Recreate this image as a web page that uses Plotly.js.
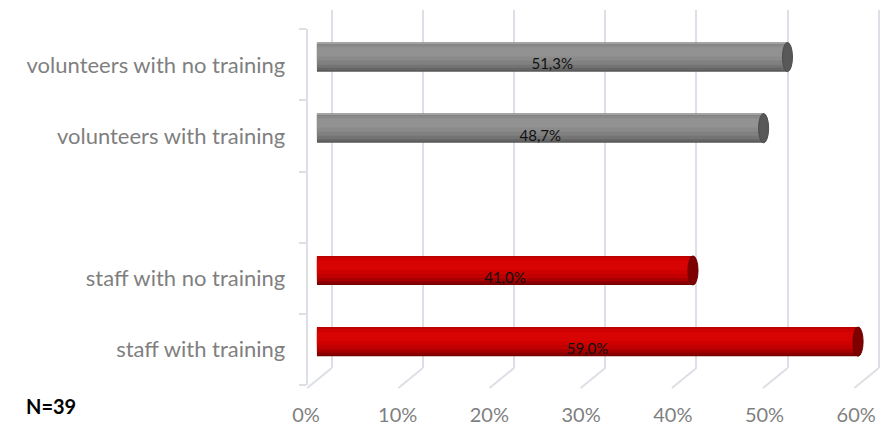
<!DOCTYPE html>
<html>
<head>
<meta charset="utf-8">
<script src="https://cdn.plot.ly/plotly-3.0.1.min.js"></script>
<style>html,body{margin:0;padding:0;background:#fff;}#chart{width:881px;height:428px;}</style>
</head>
<body>
<div id="chart"></div>
<script>
// ---- data ----
const categories = ['staff with training', 'staff with no training', ' ', 'volunteers with training', 'volunteers with no training'];
const values = [59.0, 41.0, null, 48.7, 51.3];
const xTickValues = [0, 10, 20, 30, 40, 50, 60];
const xTickLabels = ['0%', '10%', '20%', '30%', '40%', '50%', '60%'];
const sampleNote = 'N=39';

// ---- style ----
const FONT = 'Lato, "Open Sans", sans-serif';
const GRID = '#dcdfe6';
const LABEL_GREY = '#7f7f7f';
const BAR_W = 0.41, BAR_SHIFT = 0.11;
// cylinder shading: bands (fraction from bottom a..b) drawn bottom-up
const layers = [
  {a: 0.00, b: 1.00, gray: '#575757', red: '#760000'},
  {a: 0.05, b: 0.98, gray: '#666666', red: '#8e0000'},
  {a: 0.13, b: 0.98, gray: '#747474', red: '#a80000'},
  {a: 0.24, b: 0.97, gray: '#808080', red: '#c00000'},
  {a: 0.38, b: 0.93, gray: '#8a8a8a', red: '#cf0000'},
  {a: 0.52, b: 0.84, gray: '#929292', red: '#d80303'},
  {a: 0.95, b: 1.00, gray: '#a2a2a2', red: '#bb0000'}
];
const isStaff = c => c.startsWith('staff');

const traces = [];
// back-wall grid subplot (drawn first, so behind the bars)
traces.push({type: 'scatter', x: [], y: [], xaxis: 'x', yaxis: 'y', hoverinfo: 'skip', showlegend: false});

layers.forEach(L => {
  traces.push({
    type: 'bar', orientation: 'h',
    x: values, y: categories,
    xaxis: 'x2', yaxis: 'y2',
    width: (L.b - L.a) * BAR_W,
    offset: BAR_SHIFT - BAR_W / 2 + L.a * BAR_W,
    marker: {color: categories.map(c => isStaff(c) ? L.red : L.gray), line: {width: 0}},
    hoverinfo: 'skip', showlegend: false
  });
});
// data labels
traces.push({
  type: 'bar', orientation: 'h',
  x: values, y: categories,
  xaxis: 'x2', yaxis: 'y2',
  width: BAR_W, offset: -BAR_W / 2 + 0.02,
  marker: {color: 'rgba(0,0,0,0)', line: {width: 0}},
  texttemplate: '%{x:.1f}%',
  textposition: 'inside', insidetextanchor: 'middle',
  textfont: {family: FONT, size: 15, color: '#111111'},
  constraintext: 'none',
  hoverinfo: 'skip', showlegend: false
});

const shapes = [];
// end caps of the cylinders
values.forEach((v, i) => {
  if (v == null) return;
  const staff = isStaff(categories[i]);
  shapes.push({
    type: 'circle', xref: 'x2', yref: 'y2', layer: 'above',
    x0: v - 0.55, x1: v + 0.55,
    y0: i + BAR_SHIFT - BAR_W / 2, y1: i + BAR_SHIFT + BAR_W / 2,
    fillcolor: staff ? '#7e0000' : '#585858',
    line: {color: staff ? '#6a0000' : '#4c4c4c', width: 1}
  });
});
// floor lines from back wall to front edge
const W = 881, H = 428;
xTickValues.forEach(t => {
  const back = 331.7 + t * 9.118;
  shapes.push({
    type: 'line', xref: 'paper', yref: 'paper', layer: 'below',
    x0: back / W, y0: 1 - 368 / H,
    x1: (back - 24.5) / W, y1: 1 - 388 / H,
    line: {color: GRID, width: 2}
  });
});

const layout = {
  width: W, height: H,
  margin: {l: 0, r: 0, t: 0, b: 0, pad: 0},
  paper_bgcolor: '#ffffff',
  plot_bgcolor: 'rgba(0,0,0,0)',
  barmode: 'overlay',
  separators: ',.',
  showlegend: false,
  font: {family: FONT, color: LABEL_GREY},
  // back wall grid
  xaxis: {
    domain: [322 / W, 1], range: [-1.064, 60.24],
    anchor: 'y', showgrid: true, gridcolor: GRID, gridwidth: 2,
    tickmode: 'array', tickvals: xTickValues,
    showticklabels: false, ticks: '', showline: false, zeroline: false, fixedrange: true
  },
  yaxis: {
    domain: [1 - 368 / H, 1 - 10 / H], range: [0, 1], anchor: 'x',
    visible: false, showgrid: false, zeroline: false, fixedrange: true
  },
  // bar plane
  xaxis2: {
    domain: [307.7 / W, 876.4 / W], range: [-1.01, 61],
    anchor: 'y2', showgrid: false, zeroline: false, showline: false, ticks: '',
    tickmode: 'array', tickvals: xTickValues, ticktext: xTickLabels,
    ticklabelshift: -11, ticklabelstandoff: 16,
    tickfont: {family: FONT, size: 20, color: LABEL_GREY}, fixedrange: true
  },
  yaxis2: {
    domain: [1 - 385 / H, 1 - 29.3 / H], range: [-0.5, 4.5],
    anchor: 'x2', type: 'category',
    categoryorder: 'array', categoryarray: categories,
    tickson: 'boundaries', ticks: 'outside', ticklen: 7, tickwidth: 2, tickcolor: GRID,
    showline: true, linecolor: GRID, linewidth: 2,
    showgrid: false, zeroline: false,
    ticklabelstandoff: 16,
    tickfont: {family: FONT, size: 22, color: LABEL_GREY}, fixedrange: true
  },
  shapes: shapes,
  annotations: [{
    text: sampleNote, xref: 'paper', yref: 'paper',
    x: 51 / W, y: 1 - 406 / H, xanchor: 'center', yanchor: 'middle',
    showarrow: false, font: {family: FONT, size: 20, color: '#000000', weight: 'bold'}
  }]
};

Plotly.newPlot('chart', traces, layout, {displayModeBar: false, staticPlot: true});
</script>
</body>
</html>
